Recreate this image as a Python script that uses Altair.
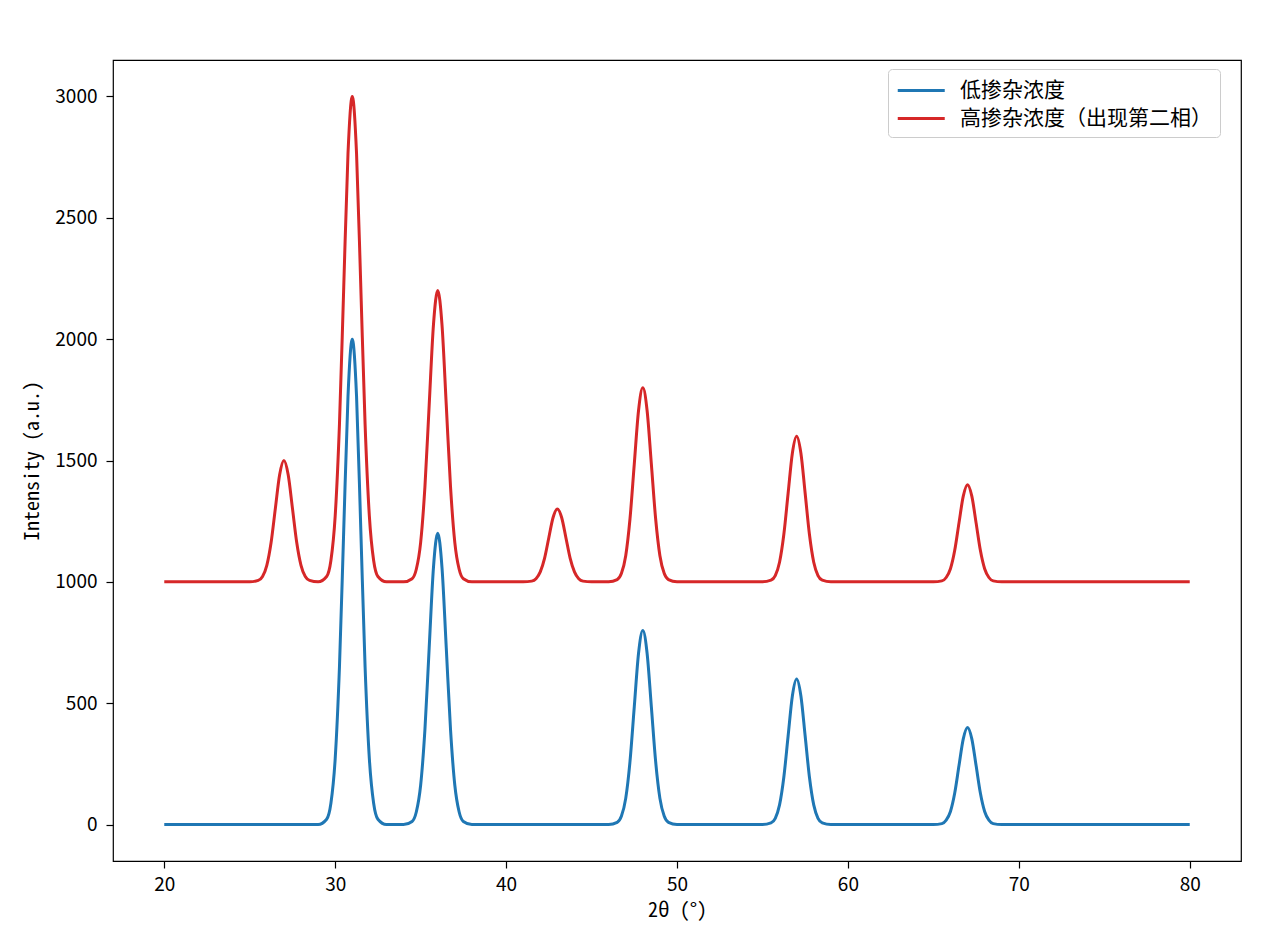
import altair as alt
import pandas as pd

FONT = "Noto Sans CJK SC"
TITLE_FONT = "Noto Sans Mono CJK SC, DejaVu Sans Mono, Noto Sans CJK SC"

series_names = ["低掺杂浓度", "高掺杂浓度（出现第二相）"]
series_colors = ["#1f77b4", "#d62728"]

# Low-doping pattern
low_x = [20,
         29, 29.5, 29.75, 30, 30.25, 30.5, 30.75, 31, 31.25, 31.5, 31.75, 32, 32.25, 32.5, 33,
         34, 34.5, 34.75, 35, 35.25, 35.5, 35.75, 36, 36.25, 36.5, 36.75, 37, 37.25, 37.5, 38,
         46, 46.5, 46.75, 47, 47.25, 47.5, 47.75, 48, 48.25, 48.5, 48.75, 49, 49.25, 49.5, 50,
         55, 55.5, 55.75, 56, 56.25, 56.5, 56.75, 57, 57.25, 57.5, 57.75, 58, 58.25, 58.5, 59,
         65, 65.5, 65.75, 66, 66.25, 66.5, 66.75, 67, 67.25, 67.5, 67.75, 68, 68.25, 68.5, 69,
         80]
low_y = [0,
         0, 22, 88, 271, 649, 1213, 1765, 2000, 1765, 1213, 649, 271, 88, 22, 0,
         0, 13, 53, 162, 390, 728, 1059, 1200, 1059, 728, 390, 162, 53, 13, 0,
         0, 9, 35, 108, 260, 485, 706, 800, 706, 485, 260, 108, 35, 9, 0,
         0, 7, 26, 81, 195, 364, 530, 600, 530, 364, 195, 81, 26, 7, 0,
         0, 4, 18, 54, 130, 243, 353, 400, 353, 243, 130, 54, 18, 4, 0,
         0]

# High-doping pattern (offset by 1000, extra second-phase peaks at 27 and 43)
high_x = [20,
          25, 25.5, 25.75, 26, 26.25, 26.5, 26.75, 27, 27.25, 27.5, 27.75, 28, 28.25, 28.5, 29,
          29.5, 29.75, 30, 30.25, 30.5, 30.75, 31, 31.25, 31.5, 31.75, 32, 32.25, 32.5, 33,
          34, 34.5, 34.75, 35, 35.25, 35.5, 35.75, 36, 36.25, 36.5, 36.75, 37, 37.25, 37.5, 38,
          41, 41.5, 41.75, 42, 42.25, 42.5, 42.75, 43, 43.25, 43.5, 43.75, 44, 44.25, 44.5, 45,
          46, 46.5, 46.75, 47, 47.25, 47.5, 47.75, 48, 48.25, 48.5, 48.75, 49, 49.25, 49.5, 50,
          55, 55.5, 55.75, 56, 56.25, 56.5, 56.75, 57, 57.25, 57.5, 57.75, 58, 58.25, 58.5, 59,
          65, 65.5, 65.75, 66, 66.25, 66.5, 66.75, 67, 67.25, 67.5, 67.75, 68, 68.25, 68.5, 69,
          80]
high_y = [1000,
          1000, 1006, 1022, 1068, 1162, 1303, 1441, 1500, 1441, 1303, 1162, 1068, 1022, 1006, 1000,
          1022, 1088, 1271, 1649, 2213, 2765, 3000, 2765, 2213, 1649, 1271, 1088, 1022, 1000,
          1000, 1013, 1053, 1162, 1390, 1728, 2059, 2200, 2059, 1728, 1390, 1162, 1053, 1013, 1000,
          1000, 1003, 1013, 1041, 1097, 1182, 1265, 1300, 1265, 1182, 1097, 1041, 1013, 1003, 1000,
          1000, 1009, 1035, 1108, 1260, 1485, 1706, 1800, 1706, 1485, 1260, 1108, 1035, 1009, 1000,
          1000, 1007, 1026, 1081, 1195, 1364, 1530, 1600, 1530, 1364, 1195, 1081, 1026, 1007, 1000,
          1000, 1004, 1018, 1054, 1130, 1243, 1353, 1400, 1353, 1243, 1130, 1054, 1018, 1004, 1000,
          1000]

x_ticks = [20, 30, 40, 50, 60, 70, 80]
y_ticks = [0, 500, 1000, 1500, 2000, 2500, 3000]

df = pd.concat([
    pd.DataFrame({"x": low_x, "y": low_y, "series": series_names[0], "order": range(len(low_x))}),
    pd.DataFrame({"x": high_x, "y": high_y, "series": series_names[1], "order": range(len(high_x))}),
])

chart = alt.Chart(df).mark_line(strokeWidth=3, interpolate="monotone").encode(
    x=alt.X("x:Q",
            scale=alt.Scale(domain=[17, 83], nice=False, zero=False),
            axis=alt.Axis(values=x_ticks, title="2θ (°)", format="d")),
    y=alt.Y("y:Q",
            scale=alt.Scale(domain=[-150, 3150], nice=False, zero=False),
            axis=alt.Axis(values=y_ticks, title="Intensity (a.u.)", format="d")),
    color=alt.Color("series:N",
                    scale=alt.Scale(domain=series_names, range=series_colors),
                    sort=series_names,
                    legend=alt.Legend(title=None, orient="none", legendX=775, legendY=9,
                                      symbolType="M-1,0H3", symbolSize=552, symbolStrokeWidth=3,
                                      labelFont=FONT, labelFontSize=21, labelColor="black",
                                      labelOffset=37, labelLimit=0, rowPadding=4,
                                      strokeColor="#cccccc", cornerRadius=4, fillColor="white",
                                      padding=8)),
    detail="series:N",
    order="order:Q",
).properties(
    width=1128, height=801,
    autosize=alt.AutoSizeParams(type="none"),
    padding={"left": 105, "top": 52, "right": 16, "bottom": 80},
).configure_view(
    stroke="black", strokeWidth=1.2,
).configure_axis(
    grid=False, domain=False,
    tickColor="black", tickSize=7, tickWidth=1.2,
    labelFont=FONT, labelFontSize=19, labelColor="black", labelPadding=7,
    titleFont=TITLE_FONT, titleFontSize=20, titleFontWeight="normal", titleColor="black",
).configure_axisX(titlePadding=6).configure_axisY(titlePadding=12, labelPadding=9)

chart.save("out.html", embed_options={"renderer": "svg", "actions": False})
